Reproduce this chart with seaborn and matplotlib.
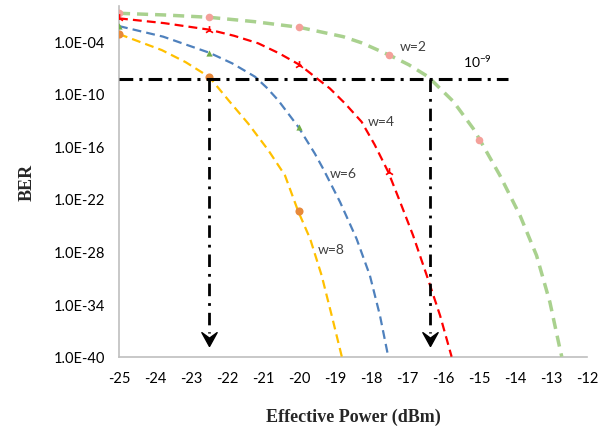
"""
BER vs effective power for weights w = 2, 4, 6, 8 with the 1e-9 threshold marked.
Values read off the original figure (log10 of BER).
"""

import pandas as pd
import matplotlib.pyplot as plt
import seaborn as sns
import numpy as np

sns.set_theme(style = "white")
plt.rcParams["font.family"] = ["Lato", "DejaVu Sans"]

# Curve readings: power (dBm) and log10(BER).
w2_power = [-25, -23.75, -22.49, -21.25, -19.99, -18.77, -18.26, -17.49, -16.95, -16.41, -16.08,
            -15.71, -15.16, -14.97, -14.42, -13.86, -13.40, -13.03, -12.75, -12.70]
w2_logber = [-0.83, -1.02, -1.29, -1.78, -2.43, -3.50, -4.20, -5.60, -6.70, -8.07, -9.41,
             -10.90, -13.98, -15.31, -19.31, -23.89, -28.46, -33.78, -39.12, -40.0]

w4_power = [-25, -23.75, -22.49, -21.8, -21.13, -20.55, -19.97, -19.56, -19.14, -18.72, -18.26,
            -17.9, -17.52, -17.19, -16.83, -16.45, -16.08, -15.76]
w4_logber = [-1.41, -1.95, -2.70, -3.40, -4.26, -5.40, -6.74, -8.07, -9.41, -11.12, -13.21,
             -15.80, -18.93, -22.35, -26.17, -30.74, -35.31, -40.0]

w6_power = [-25, -23.77, -22.49, -21.85, -21.22, -20.9, -20.58, -20.02, -19.56, -19.33, -18.86,
            -18.40, -18.03, -17.75, -17.52]
w6_logber = [-2.29, -3.50, -5.33, -6.55, -8.07, -9.30, -10.74, -13.78, -16.83, -18.55, -22.35,
             -26.55, -30.74, -35.31, -40.0]

w8_power = [-25, -23.81, -23.15, -22.49, -21.96, -21.41, -20.85, -20.39, -20.02, -19.69, -19.37,
            -19.09, -18.81]
w8_logber = [-3.20, -5.03, -6.40, -8.10, -10.74, -13.41, -16.46, -19.31, -23.43, -26.55, -30.74,
             -35.31, -40.0]

# Marker positions (points shown with symbols).
w2_mark_power = [-25, -22.5, -20, -17.5, -15]
w2_mark_logber = [-0.83, -1.29, -2.43, -5.60, -15.31]
w4_mark_power = [-25, -22.5, -20, -17.5]
w4_mark_logber = [-1.41, -2.70, -6.74, -18.93]
w6_mark_power = [-25, -22.5, -20]
w6_mark_logber = [-2.29, -5.33, -13.78]
w8_mark_power = [-25, -22.5, -20]
w8_mark_logber = [-3.20, -8.10, -23.43]

# Threshold line and the two sensitivity arrows.
threshold_logber = -8.3
threshold_end = -14.2
sensitivity_power = [-22.5, -16.35]
arrow_tip_logber = -38.8

y_ticks_exp = [-40, -34, -28, -22, -16, -10, -4]
x_ticks = list(range(-25, -11))


fig = plt.figure(figsize = (6.12, 4.27), dpi = 100)
ax = fig.add_axes([0.1944, 0.1623, 0.7647, 0.8213])

curves = [
    (w2_power, w2_logber, "#A9D18E", 2.5, (3.2, 2)),
    (w4_power, w4_logber, "#FF0000", 1.6, (4, 2.3)),
    (w6_power, w6_logber, "#4F81BD", 1.6, (4, 2.3)),
    (w8_power, w8_logber, "#FFC000", 1.6, (4, 2.3)),
]
for px, ly, col, lw, dash in curves:
    d = pd.DataFrame({"power": px, "ber": 10.0 ** np.array(ly)})
    sns.lineplot(data = d, x = "power", y = "ber", ax = ax, color = col,
                 linewidth = lw, linestyle = (0, dash), zorder = 3)

marks = [
    (w2_mark_power, w2_mark_logber, "#F4A09A", "o", 30),
    (w4_mark_power, w4_mark_logber, "#FF0000", "2", 40),
    (w6_mark_power, w6_mark_logber, "#70AD47", "^", 20),
    (w8_mark_power, w8_mark_logber, "#E8893A", "o", 34),
]
for px, ly, col, mk, sz in marks:
    d = pd.DataFrame({"power": px, "ber": 10.0 ** np.array(ly)})
    sns.scatterplot(data = d, x = "power", y = "ber", ax = ax, color = col,
                    marker = mk, s = sz, linewidth = 1.2 if mk == "2" else 0, zorder = 4)

# Threshold and arrows
thr = 10.0 ** threshold_logber
ax.plot([-25, threshold_end], [thr, thr], color = "black", lw = 2.2,
        linestyle = (0, (4.5, 2, 1, 2)), zorder = 5)
head = [(0, 0), (-0.55, 1), (0, 0.6), (0.55, 1), (0, 0)]
for p in sensitivity_power:
    ax.plot([p, p], [thr, 10.0 ** (arrow_tip_logber + 1.5)], color = "black", lw = 2,
            linestyle = (0, (4.5, 2.5, 1, 2.5)), zorder = 5)
    ax.plot([p], [10.0 ** arrow_tip_logber], marker = head, markersize = 20,
            color = "black", linestyle = "none", zorder = 6)

# Curve labels
txt = dict(fontsize = 10, color = "#404040", ha = "center", va = "center")
ax.text(-16.83, 10.0 ** -4.6, "w=2", **txt)
ax.text(-17.72, 10.0 ** -13.1, "w=4", **txt)
ax.text(-18.78, 10.0 ** -19.1, "w=6", **txt)
ax.text(-19.1, 10.0 ** -27.7, "w=8", **txt)
ax.text(-15.05, 10.0 ** -6.3, r"$\mathregular{10^{-9}}$", fontsize = 10, color = "black",
        ha = "center", va = "center")

ax.set_yscale("log")
ax.set_ylim(1e-40, 1e0)
ax.set_xlim(-25, -12)
ax.set_yticks([10.0 ** e for e in y_ticks_exp])
ax.set_yticklabels(["1.0E-%02d" % abs(e) for e in y_ticks_exp])
ax.minorticks_off()
ax.set_xticks(x_ticks)
ax.set_xticklabels([str(v) for v in x_ticks])

for s in ["top", "right"]:
    ax.spines[s].set_visible(False)
for s in ["left", "bottom"]:
    ax.spines[s].set_color("#BFBFBF")
    ax.spines[s].set_linewidth(1.2)
ax.tick_params(axis = "both", direction = "inout", length = 8, width = 1, color = "#BFBFBF",
               labelsize = 10.5, labelcolor = "black")
ax.tick_params(axis = "y", pad = 6)
ax.tick_params(axis = "x", pad = 6)
ax.grid(False)

ax.set_xlabel("Effective Power (dBm)", family = "Liberation Serif", fontweight = "bold", fontsize = 13)
ax.set_ylabel("BER", family = "Liberation Serif", fontweight = "bold", fontsize = 13)
ax.xaxis.set_label_coords(0.5, -0.145)
ax.yaxis.set_label_coords(-0.178, 0.5)

plt.savefig("out.png", dpi = 100)
